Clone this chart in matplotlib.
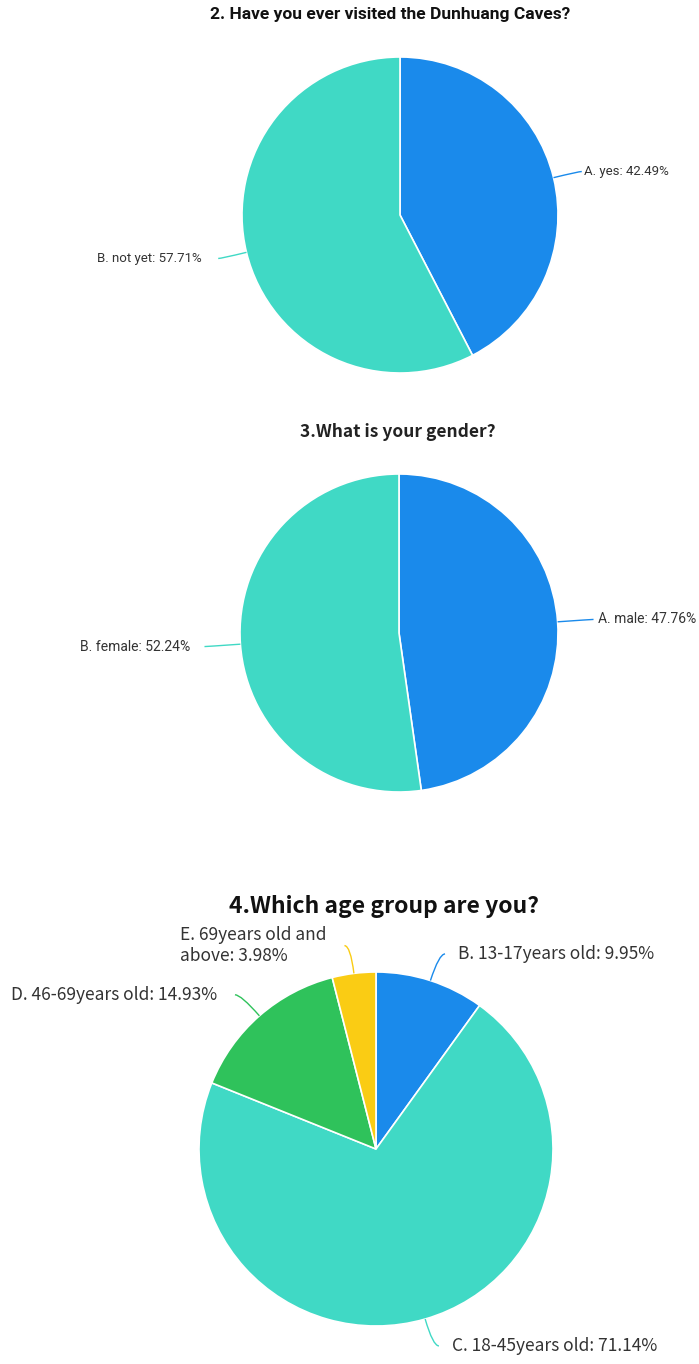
import matplotlib.pyplot as plt
from matplotlib.path import Path
from matplotlib.patches import PathPatch
import numpy as np

W, H = 699, 1364

# survey answers (percent)
q2_title = '2. Have you ever visited the Dunhuang Caves?'
q2_labels = ['A. yes', 'B. not yet']
q2_values = [42.49, 57.71]

q3_title = '3.What is your gender?'
q3_labels = ['A. male', 'B. female']
q3_values = [47.76, 52.24]

q4_title = '4.Which age group are you?'
q4_labels = ['B. 13-17years old', 'C. 18-45years old', 'D. 46-69years old',
             'E. 69years old and\nabove']
q4_values = [9.95, 71.14, 14.93, 3.98]

BLUE, TEAL, GREEN, YELLOW = '#1a8aeb', '#40d9c5', '#2fc25b', '#facc14'

fig = plt.figure(figsize=(W / 100, H / 100), dpi=100)
ax = fig.add_axes([0, 0, 1, 1])


def draw_pie(labels, values, colors, cx, cy, r, l1, l2, gap_r, gap_l, fsize, family):
    wedges, _ = ax.pie(values, colors=colors, startangle=90, counterclock=False,
                       center=(cx, H - cy), radius=r,
                       wedgeprops=dict(edgecolor='white', linewidth=1.2))
    for w, lab, val, c in zip(wedges, labels, values, colors):
        a = np.deg2rad((w.theta1 + w.theta2) / 2)
        d = np.array([np.cos(a), np.sin(a)])
        p0 = np.array([cx, H - cy]) + r * d
        p1 = np.array([cx, H - cy]) + (r + l1) * d
        s = 1 if d[0] >= 0 else -1
        p2 = p1 + [s * l2, 0]
        path = Path([p0, p1, p2], [Path.MOVETO, Path.CURVE3, Path.CURVE3])
        ax.add_patch(PathPatch(path, fill=False, edgecolor=c, lw=1))
        txt = f'{lab}: {val:.2f}%'
        gap = gap_r if s > 0 else gap_l
        ax.text(p2[0] + s * gap, p2[1], txt, ha='left' if s > 0 else 'right',
                va='center', ma='left', fontsize=fsize, family=family, color='#333333')


draw_pie(q2_labels, q2_values, [BLUE, TEAL], 400, 215, 158, 26, 3, 2, 16, 9.5, 'Roboto')
draw_pie(q3_labels, q3_values, [BLUE, TEAL], 399, 633, 159, 34, 2, 4, 14, 10, 'Roboto')
draw_pie(q4_labels, q4_values, [BLUE, TEAL, GREEN, YELLOW], 376, 1149, 177, 28, 6, 13, 18,
         12.5, ['Noto Sans CJK SC', 'DejaVu Sans'])

ax.text(390, H - 15, q2_title, ha='center', va='center', fontsize=12.5,
        fontweight='bold', family='Roboto', color='#111111')
ax.text(398, H - 432, q3_title, ha='center', va='center', fontsize=12.5,
        fontweight='bold', family=['Noto Sans CJK SC', 'DejaVu Sans'], color='#222222')
ax.text(384, H - 907, q4_title, ha='center', va='center', fontsize=16.5,
        fontweight='bold', family=['Noto Sans CJK SC', 'DejaVu Sans'], color='#111111')

ax.set_xlim(0, W)
ax.set_ylim(0, H)
ax.set_aspect('equal')
ax.axis('off')

fig.savefig('out.png', dpi=100, facecolor='white')
